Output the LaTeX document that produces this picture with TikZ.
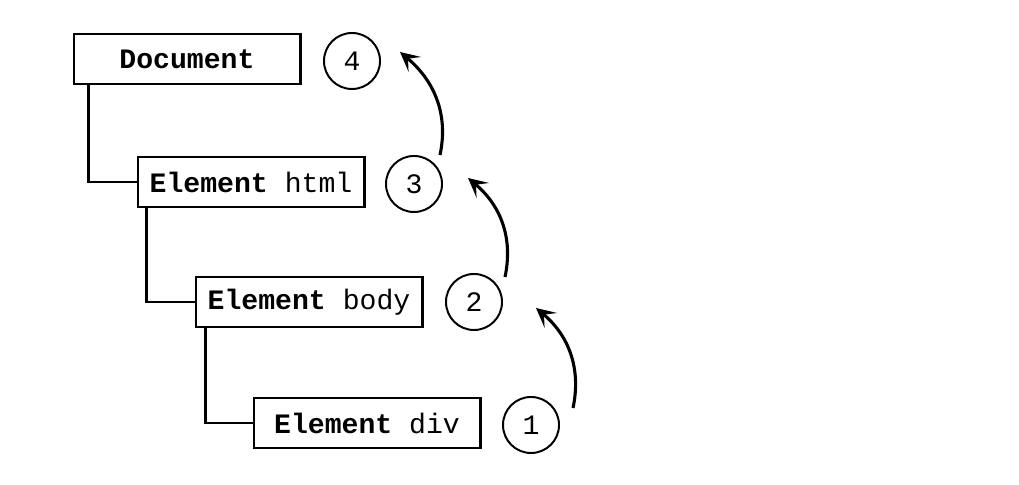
\documentclass[tikz,border=0pt]{standalone}
\usepackage{fontspec}
\setmonofont{Liberation Mono}
\usetikzlibrary{calc}
\usetikzlibrary{arrows.meta}

\begin{document}
\begin{tikzpicture}[x=0.0125cm,y=0.0125cm,
  box/.style={draw, line width=0.9pt, minimum width=2.83cm, minimum height=0.62cm, inner sep=0pt, font=\ttfamily\fontsize{10}{12}\selectfont},
  num/.style={draw, circle, line width=0.7pt, minimum size=0.7cm, inner sep=0pt, font=\ttfamily\fontsize{10}{12}\selectfont},
  tree/.style={line width=0.8pt},
  flow/.style={line width=1.1pt, -{Stealth[length=2.4mm,width=2.4mm,inset=1.1mm]}}]
\useasboundingbox (0,0) rectangle (1019,485);

  %\draw[very thin,color=lightgray] (0,0) grid[step=50] (1019,485);
\node[box] (doc)  at (187,426) {\textbf{Document}};
\node[box] (html) at (251,303) {\textbf{Element} html};
\node[box] (body) at (309,183) {\textbf{Element} body};
\node[box] (div)  at (367,62)  {\textbf{Element} div};

\node[num] (c4) at (352,424) {4};
\node[num] (c3) at (414,301) {3};
\node[num] (c2) at (474,183) {2};
\node[num] (c1) at (531,60)  {1};

% tree lines
\draw[tree] ($(doc.south west)+(16,0)$) |- (html.west);
\draw[tree] ($(html.south west)+(10,0)$) |- (body.west);
\draw[tree] ($(body.south west)+(11,0)$) |- (div.west);

% walking up
\draw[flow] ($(c1)+(42,17)$) to[out=78,in=-40] ($(c2)+(62,-6)$);
\draw[flow] ($(c2)+(31,25)$) to[out=78,in=-40] ($(c3)+(54,6)$);
\draw[flow] ($(c3)+(26,29)$) to[out=78,in=-40] ($(c4)+(48,9)$);

\end{tikzpicture}
\end{document}
